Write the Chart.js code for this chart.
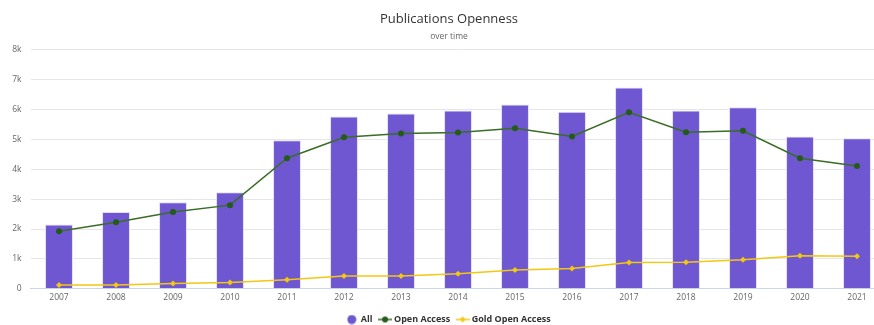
<!DOCTYPE html>
<html>
<head>
<meta charset="utf-8">
<script src="https://cdn.jsdelivr.net/npm/chart.js@4/dist/chart.umd.min.js"></script>
<style>
    html, body { margin: 0; padding: 0; background: #fff; overflow: hidden; }
    #wrap { position: relative; width: 898px; height: 334px; }
</style>
</head>
<body>
<div id="wrap"><canvas id="myChart"></canvas></div>
<script>
// values
const years = ["2007", "2008", "2009", "2010", "2011", "2012", "2013", "2014", "2015", "2016", "2017", "2018", "2019", "2020", "2021"];
const allPubs = [2150, 2570, 2900, 3230, 4970, 5770, 5870, 5970, 6170, 5930, 6740, 5970, 6080, 5100, 5040];
const openAccess = [1930, 2230, 2570, 2800, 4370, 5070, 5200, 5230, 5370, 5100, 5910, 5240, 5290, 4370, 4110];
const goldOpenAccess = [130, 130, 180, 210, 300, 430, 430, 500, 630, 680, 880, 890, 970, 1110, 1090];
const yTicks = [0, 1000, 2000, 3000, 4000, 5000, 6000, 7000, 8000];

const FONT = "'Open Sans', 'DejaVu Sans', sans-serif";
const PURPLE = "#6e57d0";
const GREEN = "#3a6d25";
const GREEN_DARK = "#245a1a";
const GOLD = "#f2c811";

// small legend symbols: a line with its marker on top
function legendSymbol(color, markerColor, diamond) {
    const c = document.createElement("canvas");
    c.width = 14;
    c.height = 8;
    const g = c.getContext("2d");
    g.strokeStyle = color;
    g.lineWidth = 1.5;
    g.beginPath();
    g.moveTo(0, 4);
    g.lineTo(14, 4);
    g.stroke();
    g.fillStyle = markerColor;
    g.beginPath();
    if (diamond) {
        g.moveTo(7, 1);
        g.lineTo(10, 4);
        g.lineTo(7, 7);
        g.lineTo(4, 4);
    } else {
        g.arc(7, 4, 3, 0, Math.PI * 2);
    }
    g.fill();
    return c;
}

function legendCircle(color) {
    const c = document.createElement("canvas");
    c.width = 10;
    c.height = 10;
    const g = c.getContext("2d");
    g.fillStyle = color;
    g.beginPath();
    g.arc(5, 5, 4.5, 0, Math.PI * 2);
    g.fill();
    return c;
}

const symbols = [legendCircle(PURPLE), legendSymbol(GREEN, GREEN_DARK, false), legendSymbol(GOLD, GOLD, true)];

const ctx = document.getElementById("myChart").getContext("2d");

new Chart(ctx, {
    type: "bar",
    data: {
        labels: years,
        datasets: [
            {
                label: "All",
                data: allPubs,
                backgroundColor: PURPLE,
                borderColor: "#e4defa",
                borderWidth: 1,
                barPercentage: 0.49,
                categoryPercentage: 1,
                order: 3,
            },
            {
                type: "line",
                label: "Open Access",
                data: openAccess,
                borderColor: GREEN,
                backgroundColor: GREEN_DARK,
                borderWidth: 1.5,
                pointRadius: 3,
                pointBackgroundColor: GREEN_DARK,
                pointBorderWidth: 0,
                tension: 0,
                order: 2,
            },
            {
                type: "line",
                label: "Gold Open Access",
                data: goldOpenAccess,
                borderColor: GOLD,
                backgroundColor: GOLD,
                borderWidth: 1.5,
                pointStyle: "rectRot",
                pointRadius: 3,
                pointBackgroundColor: GOLD,
                pointBorderWidth: 0,
                tension: 0,
                order: 1,
            },
        ],
    },
    options: {
        responsive: true,
        maintainAspectRatio: false,
        animation: false,
        layout: { padding: 0 },
        plugins: {
            title: {
                display: true,
                text: "Publications Openness",
                color: "#333333",
                font: { family: FONT, size: 13, weight: "normal" },
                padding: { top: 11, bottom: 5 },
            },
            subtitle: {
                display: true,
                text: "over time",
                color: "#666666",
                font: { family: FONT, size: 8.5 },
                padding: { top: 0, bottom: 8 },
            },
            legend: {
                position: "bottom",
                labels: {
                    color: "#333333",
                    font: { family: FONT, size: 9, weight: "bold" },
                    usePointStyle: true,
                    boxHeight: 9,
                    padding: 8,
                    sort: (a, b) => a.datasetIndex - b.datasetIndex,
                    generateLabels: (chart) => {
                        const items = Chart.defaults.plugins.legend.labels.generateLabels(chart);
                        items.forEach((it) => { it.pointStyle = symbols[it.datasetIndex]; });
                        return items;
                    },
                },
            },
            tooltip: { enabled: false },
        },
        scales: {
            x: {
                grid: { display: false, drawTicks: false, tickLength: 0 },
                border: { color: "#ccd6eb", width: 1 },
                ticks: { color: "#666666", font: { family: FONT, size: 8.5 }, padding: 4, maxRotation: 0 },
            },
            y: {
                min: 0,
                max: 8000,
                afterBuildTicks: (scale) => { scale.ticks = yTicks.map(v => ({ value: v })); },
                afterFit: (scale) => { scale.width = 30.5; },
                grid: { color: "#e6e6e6", drawTicks: false },
                border: { display: false },
                ticks: {
                    color: "#666666",
                    font: { family: FONT, size: 8.5 },
                    padding: 9,
                    callback: (v) => (v === 0 ? "0" : v / 1000 + "k"),
                },
            },
            // empty right margin, so the plot ends where the reference's does
            yRight: {
                position: "right",
                grid: { display: false, drawTicks: false },
                border: { display: false },
                ticks: { display: false },
                afterFit: (scale) => { scale.width = 12.5; },
            },
        },
    },
});
</script>
</body>
</html>
